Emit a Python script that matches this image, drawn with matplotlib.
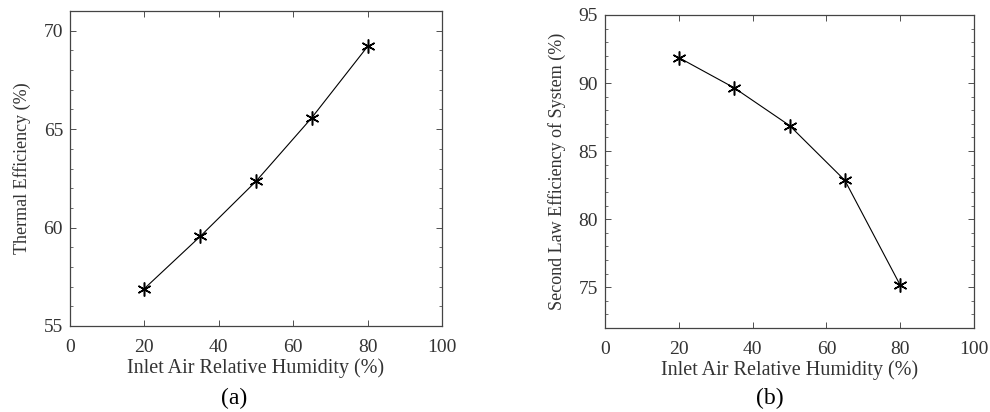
import matplotlib.pyplot as plt
from matplotlib.ticker import MultipleLocator

plt.rcParams['font.family'] = ['Liberation Serif', 'DejaVu Serif']

# data
humidity = [20, 35, 50, 65, 80]
thermal_eff = [56.9, 59.55, 62.35, 65.58, 69.2]
second_law_eff = [91.87, 89.65, 86.88, 82.85, 75.15]

x_ticks = [0, 20, 40, 60, 80, 100]
TXT = '#333333'

fig = plt.figure(figsize=(9.9, 4.12), dpi=100)
ax1 = fig.add_axes([70 / 990, 1 - 326 / 412, 372 / 990, 315 / 412])
ax2 = fig.add_axes([605 / 990, 1 - 328 / 412, 369 / 990, 313 / 412])


def style_axis(ax, yvals, ylim, yticks, ylabel):
    ax.plot(humidity, yvals, color='black', lw=0.8,
            marker=(6, 2, 0), ms=10, mew=1.1)
    ax.set_xlim(0, 100)
    ax.set_ylim(*ylim)
    ax.set_xticks(x_ticks)
    ax.set_yticks(yticks)
    ax.yaxis.set_minor_locator(MultipleLocator(1))
    ax.tick_params(which='both', direction='in', top=True, right=True,
                   colors=TXT, labelsize=14, pad=5)
    ax.tick_params(axis='x', pad=9)
    ax.tick_params(which='major', length=4, width=0.6)
    ax.tick_params(which='minor', length=2, width=0.5)
    for s in ax.spines.values():
        s.set_color('#444444')
        s.set_linewidth(0.9)
    ax.set_xlabel('Inlet Air Relative Humidity (%)', fontsize=14.5,
                  color=TXT, labelpad=2)
    ax.set_ylabel(ylabel, fontsize=13, color=TXT, labelpad=9)


style_axis(ax1, thermal_eff, (55, 71), [55, 60, 65, 70],
           'Thermal Efficiency (%)')
style_axis(ax2, second_law_eff, (72, 95), [75, 80, 85, 90, 95],
           'Second Law Efficiency of System (%)')

fig.text(234 / 990, 1 - 398 / 412, '(a)', ha='center', va='center',
         fontsize=17, color='black')
fig.text(770 / 990, 1 - 398 / 412, '(b)', ha='center', va='center',
         fontsize=17, color='black')

fig.savefig('out.png', dpi=100)
